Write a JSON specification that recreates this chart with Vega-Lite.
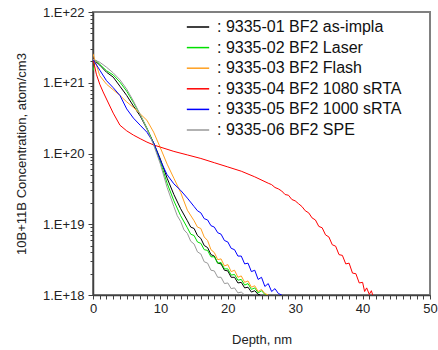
{
  "$schema": "https://vega.github.io/schema/vega-lite/v6.json",
  "width": 337,
  "height": 283,
  "autosize": {"type": "none"},
  "padding": {"left": 93, "top": 12, "right": 8, "bottom": 55},
  "config": {
    "font": "Liberation Sans",
    "view": {"stroke": "#808080", "strokeWidth": 2}
  },
  "data": {
    "values": [
      {"s": "9335-01 BF2 as-impla", "d": 0, "c": 2.14e21},
      {"s": "9335-01 BF2 as-impla", "d": 1, "c": 1.78e21},
      {"s": "9335-01 BF2 as-impla", "d": 2, "c": 1.41e21},
      {"s": "9335-01 BF2 as-impla", "d": 3, "c": 1.20e21},
      {"s": "9335-01 BF2 as-impla", "d": 4, "c": 8.91e20},
      {"s": "9335-01 BF2 as-impla", "d": 5, "c": 6.61e20},
      {"s": "9335-01 BF2 as-impla", "d": 6, "c": 4.68e20},
      {"s": "9335-01 BF2 as-impla", "d": 7, "c": 3.39e20},
      {"s": "9335-01 BF2 as-impla", "d": 8, "c": 2.24e20},
      {"s": "9335-01 BF2 as-impla", "d": 9, "c": 1.41e20},
      {"s": "9335-01 BF2 as-impla", "d": 10, "c": 8.32e19},
      {"s": "9335-01 BF2 as-impla", "d": 11, "c": 4.47e19},
      {"s": "9335-01 BF2 as-impla", "d": 12, "c": 2.63e19},
      {"s": "9335-01 BF2 as-impla", "d": 13, "c": 1.66e19},
      {"s": "9335-01 BF2 as-impla", "d": 14, "c": 1.12e19},
      {"s": "9335-01 BF2 as-impla", "d": 14.5, "c": 9.12e18},
      {"s": "9335-01 BF2 as-impla", "d": 15, "c": 8.71e18},
      {"s": "9335-01 BF2 as-impla", "d": 15.5, "c": 6.92e18},
      {"s": "9335-01 BF2 as-impla", "d": 16, "c": 6.31e18},
      {"s": "9335-01 BF2 as-impla", "d": 16.5, "c": 5.01e18},
      {"s": "9335-01 BF2 as-impla", "d": 17, "c": 4.68e18},
      {"s": "9335-01 BF2 as-impla", "d": 17.5, "c": 3.72e18},
      {"s": "9335-01 BF2 as-impla", "d": 18, "c": 3.55e18},
      {"s": "9335-01 BF2 as-impla", "d": 18.5, "c": 2.82e18},
      {"s": "9335-01 BF2 as-impla", "d": 19, "c": 2.75e18},
      {"s": "9335-01 BF2 as-impla", "d": 19.5, "c": 2.24e18},
      {"s": "9335-01 BF2 as-impla", "d": 20, "c": 2.19e18},
      {"s": "9335-01 BF2 as-impla", "d": 20.5, "c": 1.78e18},
      {"s": "9335-01 BF2 as-impla", "d": 21, "c": 1.78e18},
      {"s": "9335-01 BF2 as-impla", "d": 21.5, "c": 1.48e18},
      {"s": "9335-01 BF2 as-impla", "d": 22, "c": 1.51e18},
      {"s": "9335-01 BF2 as-impla", "d": 22.5, "c": 1.26e18},
      {"s": "9335-01 BF2 as-impla", "d": 23, "c": 1.29e18},
      {"s": "9335-01 BF2 as-impla", "d": 23.5, "c": 1.10e18},
      {"s": "9335-01 BF2 as-impla", "d": 24, "c": 1.15e18},
      {"s": "9335-01 BF2 as-impla", "d": 24.5, "c": 1.02e18},
      {"s": "9335-01 BF2 as-impla", "d": 24.8, "c": 1.0e18},

      {"s": "9335-02 BF2 Laser", "d": 0, "c": 1.48e21},
      {"s": "9335-02 BF2 Laser", "d": 0.4, "c": 2.09e21},
      {"s": "9335-02 BF2 Laser", "d": 1, "c": 1.82e21},
      {"s": "9335-02 BF2 Laser", "d": 2, "c": 1.48e21},
      {"s": "9335-02 BF2 Laser", "d": 3, "c": 1.29e21},
      {"s": "9335-02 BF2 Laser", "d": 4, "c": 1.02e21},
      {"s": "9335-02 BF2 Laser", "d": 5, "c": 7.59e20},
      {"s": "9335-02 BF2 Laser", "d": 6, "c": 5.25e20},
      {"s": "9335-02 BF2 Laser", "d": 7, "c": 3.55e20},
      {"s": "9335-02 BF2 Laser", "d": 8, "c": 2.29e20},
      {"s": "9335-02 BF2 Laser", "d": 9, "c": 1.38e20},
      {"s": "9335-02 BF2 Laser", "d": 10, "c": 7.59e19},
      {"s": "9335-02 BF2 Laser", "d": 11, "c": 3.80e19},
      {"s": "9335-02 BF2 Laser", "d": 12, "c": 2.14e19},
      {"s": "9335-02 BF2 Laser", "d": 13, "c": 1.32e19},
      {"s": "9335-02 BF2 Laser", "d": 14, "c": 8.91e18},
      {"s": "9335-02 BF2 Laser", "d": 14.5, "c": 7.24e18},
      {"s": "9335-02 BF2 Laser", "d": 15, "c": 6.92e18},
      {"s": "9335-02 BF2 Laser", "d": 15.5, "c": 5.62e18},
      {"s": "9335-02 BF2 Laser", "d": 16, "c": 5.37e18},
      {"s": "9335-02 BF2 Laser", "d": 16.5, "c": 4.37e18},
      {"s": "9335-02 BF2 Laser", "d": 17, "c": 4.27e18},
      {"s": "9335-02 BF2 Laser", "d": 17.5, "c": 3.47e18},
      {"s": "9335-02 BF2 Laser", "d": 18, "c": 3.47e18},
      {"s": "9335-02 BF2 Laser", "d": 18.5, "c": 2.82e18},
      {"s": "9335-02 BF2 Laser", "d": 19, "c": 2.88e18},
      {"s": "9335-02 BF2 Laser", "d": 19.5, "c": 2.34e18},
      {"s": "9335-02 BF2 Laser", "d": 20, "c": 2.34e18},
      {"s": "9335-02 BF2 Laser", "d": 20.5, "c": 1.91e18},
      {"s": "9335-02 BF2 Laser", "d": 21, "c": 1.95e18},
      {"s": "9335-02 BF2 Laser", "d": 21.5, "c": 1.62e18},
      {"s": "9335-02 BF2 Laser", "d": 22, "c": 1.66e18},
      {"s": "9335-02 BF2 Laser", "d": 22.5, "c": 1.38e18},
      {"s": "9335-02 BF2 Laser", "d": 23, "c": 1.45e18},
      {"s": "9335-02 BF2 Laser", "d": 23.5, "c": 1.20e18},
      {"s": "9335-02 BF2 Laser", "d": 24, "c": 1.26e18},
      {"s": "9335-02 BF2 Laser", "d": 24.5, "c": 1.07e18},
      {"s": "9335-02 BF2 Laser", "d": 25, "c": 1.15e18},
      {"s": "9335-02 BF2 Laser", "d": 25.5, "c": 1.02e18},
      {"s": "9335-02 BF2 Laser", "d": 25.8, "c": 1.0e18},

      {"s": "9335-03 BF2 Flash", "d": 0, "c": 2.57e21},
      {"s": "9335-03 BF2 Flash", "d": 0.5, "c": 1.78e21},
      {"s": "9335-03 BF2 Flash", "d": 1, "c": 1.26e21},
      {"s": "9335-03 BF2 Flash", "d": 2, "c": 9.55e20},
      {"s": "9335-03 BF2 Flash", "d": 3, "c": 7.94e20},
      {"s": "9335-03 BF2 Flash", "d": 4, "c": 6.61e20},
      {"s": "9335-03 BF2 Flash", "d": 5, "c": 5.37e20},
      {"s": "9335-03 BF2 Flash", "d": 6, "c": 4.47e20},
      {"s": "9335-03 BF2 Flash", "d": 7, "c": 3.63e20},
      {"s": "9335-03 BF2 Flash", "d": 8, "c": 2.95e20},
      {"s": "9335-03 BF2 Flash", "d": 9, "c": 2.0e20},
      {"s": "9335-03 BF2 Flash", "d": 10, "c": 1.20e20},
      {"s": "9335-03 BF2 Flash", "d": 11, "c": 7.08e19},
      {"s": "9335-03 BF2 Flash", "d": 12, "c": 4.47e19},
      {"s": "9335-03 BF2 Flash", "d": 13, "c": 2.82e19},
      {"s": "9335-03 BF2 Flash", "d": 14, "c": 1.58e19},
      {"s": "9335-03 BF2 Flash", "d": 15, "c": 1.12e19},
      {"s": "9335-03 BF2 Flash", "d": 15.5, "c": 9.12e18},
      {"s": "9335-03 BF2 Flash", "d": 16, "c": 8.71e18},
      {"s": "9335-03 BF2 Flash", "d": 16.5, "c": 6.61e18},
      {"s": "9335-03 BF2 Flash", "d": 17, "c": 5.89e18},
      {"s": "9335-03 BF2 Flash", "d": 17.5, "c": 4.37e18},
      {"s": "9335-03 BF2 Flash", "d": 18, "c": 3.98e18},
      {"s": "9335-03 BF2 Flash", "d": 18.5, "c": 3.16e18},
      {"s": "9335-03 BF2 Flash", "d": 19, "c": 3.24e18},
      {"s": "9335-03 BF2 Flash", "d": 19.5, "c": 2.57e18},
      {"s": "9335-03 BF2 Flash", "d": 20, "c": 2.69e18},
      {"s": "9335-03 BF2 Flash", "d": 20.5, "c": 2.14e18},
      {"s": "9335-03 BF2 Flash", "d": 21, "c": 2.24e18},
      {"s": "9335-03 BF2 Flash", "d": 21.5, "c": 1.78e18},
      {"s": "9335-03 BF2 Flash", "d": 22, "c": 1.86e18},
      {"s": "9335-03 BF2 Flash", "d": 22.5, "c": 1.51e18},
      {"s": "9335-03 BF2 Flash", "d": 23, "c": 1.58e18},
      {"s": "9335-03 BF2 Flash", "d": 23.5, "c": 1.29e18},
      {"s": "9335-03 BF2 Flash", "d": 24, "c": 1.35e18},
      {"s": "9335-03 BF2 Flash", "d": 24.5, "c": 1.12e18},
      {"s": "9335-03 BF2 Flash", "d": 25, "c": 1.20e18},
      {"s": "9335-03 BF2 Flash", "d": 25.5, "c": 1.05e18},
      {"s": "9335-03 BF2 Flash", "d": 26, "c": 1.0e18},

      {"s": "9335-04 BF2 1080 sRTA", "d": 0, "c": 2.19e21},
      {"s": "9335-04 BF2 1080 sRTA", "d": 0.5, "c": 1.32e21},
      {"s": "9335-04 BF2 1080 sRTA", "d": 1, "c": 9.55e20},
      {"s": "9335-04 BF2 1080 sRTA", "d": 1.5, "c": 7.41e20},
      {"s": "9335-04 BF2 1080 sRTA", "d": 2, "c": 5.89e20},
      {"s": "9335-04 BF2 1080 sRTA", "d": 3, "c": 3.72e20},
      {"s": "9335-04 BF2 1080 sRTA", "d": 4, "c": 2.51e20},
      {"s": "9335-04 BF2 1080 sRTA", "d": 5, "c": 2.09e20},
      {"s": "9335-04 BF2 1080 sRTA", "d": 6, "c": 1.82e20},
      {"s": "9335-04 BF2 1080 sRTA", "d": 7, "c": 1.62e20},
      {"s": "9335-04 BF2 1080 sRTA", "d": 8, "c": 1.45e20},
      {"s": "9335-04 BF2 1080 sRTA", "d": 9, "c": 1.32e20},
      {"s": "9335-04 BF2 1080 sRTA", "d": 10, "c": 1.23e20},
      {"s": "9335-04 BF2 1080 sRTA", "d": 12, "c": 1.07e20},
      {"s": "9335-04 BF2 1080 sRTA", "d": 14, "c": 9.55e19},
      {"s": "9335-04 BF2 1080 sRTA", "d": 16, "c": 8.51e19},
      {"s": "9335-04 BF2 1080 sRTA", "d": 18, "c": 7.41e19},
      {"s": "9335-04 BF2 1080 sRTA", "d": 20, "c": 6.46e19},
      {"s": "9335-04 BF2 1080 sRTA", "d": 22, "c": 5.62e19},
      {"s": "9335-04 BF2 1080 sRTA", "d": 24, "c": 4.68e19},
      {"s": "9335-04 BF2 1080 sRTA", "d": 26, "c": 3.80e19},
      {"s": "9335-04 BF2 1080 sRTA", "d": 26.5, "c": 3.63e19},
      {"s": "9335-04 BF2 1080 sRTA", "d": 27, "c": 3.31e19},
      {"s": "9335-04 BF2 1080 sRTA", "d": 27.5, "c": 3.16e19},
      {"s": "9335-04 BF2 1080 sRTA", "d": 28, "c": 2.95e19},
      {"s": "9335-04 BF2 1080 sRTA", "d": 28.5, "c": 2.63e19},
      {"s": "9335-04 BF2 1080 sRTA", "d": 29, "c": 2.57e19},
      {"s": "9335-04 BF2 1080 sRTA", "d": 29.5, "c": 2.24e19},
      {"s": "9335-04 BF2 1080 sRTA", "d": 30, "c": 2.14e19},
      {"s": "9335-04 BF2 1080 sRTA", "d": 30.5, "c": 1.95e19},
      {"s": "9335-04 BF2 1080 sRTA", "d": 31, "c": 1.78e19},
      {"s": "9335-04 BF2 1080 sRTA", "d": 31.5, "c": 1.55e19},
      {"s": "9335-04 BF2 1080 sRTA", "d": 32, "c": 1.45e19},
      {"s": "9335-04 BF2 1080 sRTA", "d": 32.5, "c": 1.23e19},
      {"s": "9335-04 BF2 1080 sRTA", "d": 33, "c": 1.15e19},
      {"s": "9335-04 BF2 1080 sRTA", "d": 33.5, "c": 9.33e18},
      {"s": "9335-04 BF2 1080 sRTA", "d": 34, "c": 8.91e18},
      {"s": "9335-04 BF2 1080 sRTA", "d": 34.5, "c": 7.08e18},
      {"s": "9335-04 BF2 1080 sRTA", "d": 35, "c": 6.61e18},
      {"s": "9335-04 BF2 1080 sRTA", "d": 35.5, "c": 5.13e18},
      {"s": "9335-04 BF2 1080 sRTA", "d": 36, "c": 4.90e18},
      {"s": "9335-04 BF2 1080 sRTA", "d": 36.5, "c": 3.72e18},
      {"s": "9335-04 BF2 1080 sRTA", "d": 37, "c": 3.63e18},
      {"s": "9335-04 BF2 1080 sRTA", "d": 37.5, "c": 2.75e18},
      {"s": "9335-04 BF2 1080 sRTA", "d": 38, "c": 2.82e18},
      {"s": "9335-04 BF2 1080 sRTA", "d": 38.5, "c": 2.04e18},
      {"s": "9335-04 BF2 1080 sRTA", "d": 39, "c": 2.0e18},
      {"s": "9335-04 BF2 1080 sRTA", "d": 39.5, "c": 1.48e18},
      {"s": "9335-04 BF2 1080 sRTA", "d": 40, "c": 1.51e18},
      {"s": "9335-04 BF2 1080 sRTA", "d": 40.3, "c": 1.12e18},
      {"s": "9335-04 BF2 1080 sRTA", "d": 40.6, "c": 1.26e18},
      {"s": "9335-04 BF2 1080 sRTA", "d": 41, "c": 1.02e18},
      {"s": "9335-04 BF2 1080 sRTA", "d": 41.3, "c": 1.15e18},
      {"s": "9335-04 BF2 1080 sRTA", "d": 41.5, "c": 1.0e18},

      {"s": "9335-05 BF2 1000 sRTA", "d": 0, "c": 2.14e21},
      {"s": "9335-05 BF2 1000 sRTA", "d": 1, "c": 1.51e21},
      {"s": "9335-05 BF2 1000 sRTA", "d": 2, "c": 1.07e21},
      {"s": "9335-05 BF2 1000 sRTA", "d": 3, "c": 8.51e20},
      {"s": "9335-05 BF2 1000 sRTA", "d": 4, "c": 6.61e20},
      {"s": "9335-05 BF2 1000 sRTA", "d": 5, "c": 4.27e20},
      {"s": "9335-05 BF2 1000 sRTA", "d": 6, "c": 3.16e20},
      {"s": "9335-05 BF2 1000 sRTA", "d": 7, "c": 2.51e20},
      {"s": "9335-05 BF2 1000 sRTA", "d": 8, "c": 2.0e20},
      {"s": "9335-05 BF2 1000 sRTA", "d": 9, "c": 1.41e20},
      {"s": "9335-05 BF2 1000 sRTA", "d": 10, "c": 7.94e19},
      {"s": "9335-05 BF2 1000 sRTA", "d": 11, "c": 5.01e19},
      {"s": "9335-05 BF2 1000 sRTA", "d": 12, "c": 3.72e19},
      {"s": "9335-05 BF2 1000 sRTA", "d": 13, "c": 3.02e19},
      {"s": "9335-05 BF2 1000 sRTA", "d": 14, "c": 2.34e19},
      {"s": "9335-05 BF2 1000 sRTA", "d": 15, "c": 1.78e19},
      {"s": "9335-05 BF2 1000 sRTA", "d": 15.5, "c": 1.55e19},
      {"s": "9335-05 BF2 1000 sRTA", "d": 16, "c": 1.45e19},
      {"s": "9335-05 BF2 1000 sRTA", "d": 16.5, "c": 1.20e19},
      {"s": "9335-05 BF2 1000 sRTA", "d": 17, "c": 1.15e19},
      {"s": "9335-05 BF2 1000 sRTA", "d": 17.5, "c": 9.55e18},
      {"s": "9335-05 BF2 1000 sRTA", "d": 18, "c": 9.12e18},
      {"s": "9335-05 BF2 1000 sRTA", "d": 18.5, "c": 7.59e18},
      {"s": "9335-05 BF2 1000 sRTA", "d": 19, "c": 7.24e18},
      {"s": "9335-05 BF2 1000 sRTA", "d": 19.5, "c": 5.89e18},
      {"s": "9335-05 BF2 1000 sRTA", "d": 20, "c": 5.62e18},
      {"s": "9335-05 BF2 1000 sRTA", "d": 20.5, "c": 4.57e18},
      {"s": "9335-05 BF2 1000 sRTA", "d": 21, "c": 4.37e18},
      {"s": "9335-05 BF2 1000 sRTA", "d": 21.5, "c": 3.55e18},
      {"s": "9335-05 BF2 1000 sRTA", "d": 22, "c": 3.55e18},
      {"s": "9335-05 BF2 1000 sRTA", "d": 22.5, "c": 2.75e18},
      {"s": "9335-05 BF2 1000 sRTA", "d": 23, "c": 2.82e18},
      {"s": "9335-05 BF2 1000 sRTA", "d": 23.5, "c": 2.14e18},
      {"s": "9335-05 BF2 1000 sRTA", "d": 24, "c": 2.24e18},
      {"s": "9335-05 BF2 1000 sRTA", "d": 24.5, "c": 1.66e18},
      {"s": "9335-05 BF2 1000 sRTA", "d": 25, "c": 1.78e18},
      {"s": "9335-05 BF2 1000 sRTA", "d": 25.5, "c": 1.32e18},
      {"s": "9335-05 BF2 1000 sRTA", "d": 26, "c": 1.45e18},
      {"s": "9335-05 BF2 1000 sRTA", "d": 26.5, "c": 1.12e18},
      {"s": "9335-05 BF2 1000 sRTA", "d": 27, "c": 1.23e18},
      {"s": "9335-05 BF2 1000 sRTA", "d": 27.5, "c": 1.05e18},
      {"s": "9335-05 BF2 1000 sRTA", "d": 28, "c": 1.0e18},

      {"s": "9335-06 BF2 SPE", "d": 0, "c": 2.14e21},
      {"s": "9335-06 BF2 SPE", "d": 1, "c": 1.95e21},
      {"s": "9335-06 BF2 SPE", "d": 2, "c": 1.66e21},
      {"s": "9335-06 BF2 SPE", "d": 3, "c": 1.38e21},
      {"s": "9335-06 BF2 SPE", "d": 4, "c": 1.10e21},
      {"s": "9335-06 BF2 SPE", "d": 5, "c": 8.13e20},
      {"s": "9335-06 BF2 SPE", "d": 6, "c": 5.50e20},
      {"s": "9335-06 BF2 SPE", "d": 7, "c": 3.55e20},
      {"s": "9335-06 BF2 SPE", "d": 8, "c": 2.24e20},
      {"s": "9335-06 BF2 SPE", "d": 9, "c": 1.32e20},
      {"s": "9335-06 BF2 SPE", "d": 10, "c": 7.08e19},
      {"s": "9335-06 BF2 SPE", "d": 11, "c": 3.31e19},
      {"s": "9335-06 BF2 SPE", "d": 12, "c": 1.78e19},
      {"s": "9335-06 BF2 SPE", "d": 12.5, "c": 1.32e19},
      {"s": "9335-06 BF2 SPE", "d": 13, "c": 1.10e19},
      {"s": "9335-06 BF2 SPE", "d": 13.5, "c": 8.32e18},
      {"s": "9335-06 BF2 SPE", "d": 14, "c": 7.41e18},
      {"s": "9335-06 BF2 SPE", "d": 14.5, "c": 5.75e18},
      {"s": "9335-06 BF2 SPE", "d": 15, "c": 5.25e18},
      {"s": "9335-06 BF2 SPE", "d": 15.5, "c": 4.07e18},
      {"s": "9335-06 BF2 SPE", "d": 16, "c": 3.80e18},
      {"s": "9335-06 BF2 SPE", "d": 16.5, "c": 2.95e18},
      {"s": "9335-06 BF2 SPE", "d": 17, "c": 2.82e18},
      {"s": "9335-06 BF2 SPE", "d": 17.5, "c": 2.24e18},
      {"s": "9335-06 BF2 SPE", "d": 18, "c": 2.19e18},
      {"s": "9335-06 BF2 SPE", "d": 18.5, "c": 1.78e18},
      {"s": "9335-06 BF2 SPE", "d": 19, "c": 1.78e18},
      {"s": "9335-06 BF2 SPE", "d": 19.5, "c": 1.45e18},
      {"s": "9335-06 BF2 SPE", "d": 20, "c": 1.48e18},
      {"s": "9335-06 BF2 SPE", "d": 20.5, "c": 1.23e18},
      {"s": "9335-06 BF2 SPE", "d": 21, "c": 1.26e18},
      {"s": "9335-06 BF2 SPE", "d": 21.5, "c": 1.07e18},
      {"s": "9335-06 BF2 SPE", "d": 22, "c": 1.10e18},
      {"s": "9335-06 BF2 SPE", "d": 22.5, "c": 1.0e18}
    ]
  },
  "mark": {"type": "line", "strokeWidth": 1, "clip": true},
  "encoding": {
    "x": {
      "field": "d",
      "type": "quantitative",
      "scale": {"domain": [0, 50], "nice": false, "zero": false},
      "axis": {
        "title": "Depth, nm",
        "values": [0,1,2,3,4,5,6,7,8,9,10,11,12,13,14,15,16,17,18,19,20,21,22,23,24,25,26,27,28,29,30,31,32,33,34,35,36,37,38,39,40,41,42,43,44,45,46,47,48,49,50],
        "labelExpr": "datum.value % 10 == 0 ? datum.label : ''",
        "labelOverlap": false,
        "labelFlush": false,
        "grid": false,
        "tickSize": 4,
        "tickColor": "#404040",
        "domainColor": "#404040",
        "domainWidth": 1.5,
        "labelFontSize": 13,
        "labelColor": "#222222",
        "labelPadding": 3,
        "titleFontSize": 13,
        "titleFontWeight": "normal",
        "titleColor": "#222222",
        "titlePadding": 18
      }
    },
    "y": {
      "field": "c",
      "type": "quantitative",
      "scale": {"type": "log", "domain": [1e18, 1e22], "nice": false},
      "axis": {
        "title": "10B+11B Concentration, atom/cm3",
        "values": [1e18,2e18,3e18,4e18,5e18,6e18,7e18,8e18,9e18,1e19,2e19,3e19,4e19,5e19,6e19,7e19,8e19,9e19,1e20,2e20,3e20,4e20,5e20,6e20,7e20,8e20,9e20,1e21,2e21,3e21,4e21,5e21,6e21,7e21,8e21,9e21,1e22],
        "labelExpr": "abs(log(datum.value)/LN10 - round(log(datum.value)/LN10)) < 0.01 ? '1.E+' + round(log(datum.value)/LN10) : ''",
        "labelOverlap": false,
        "grid": false,
        "tickSize": {"expr": "abs(log(datum.value)/LN10 - round(log(datum.value)/LN10)) < 0.01 ? 5 : 3"},
        "tickColor": "#404040",
        "domainColor": "#404040",
        "domainWidth": 1.5,
        "labelFontSize": 13,
        "labelColor": "#222222",
        "labelPadding": 4,
        "titleFontSize": 13,
        "titleFontWeight": "normal",
        "titleColor": "#222222",
        "titlePadding": 14
      }
    },
    "color": {
      "field": "s",
      "type": "nominal",
      "scale": {
        "domain": ["9335-01 BF2 as-impla", "9335-02 BF2 Laser", "9335-03 BF2 Flash", "9335-04 BF2 1080 sRTA", "9335-05 BF2 1000 sRTA", "9335-06 BF2 SPE"],
        "range": ["#000000", "#00e000", "#ffa020", "#ff0000", "#0000ff", "#999999"]
      },
      "legend": {
        "title": null,
        "orient": "none",
        "legendX": 93,
        "legendY": 3,
        "padding": 0,
        "symbolType": "stroke",
        "symbolSize": 500,
        "symbolStrokeWidth": 1.5,
        "rowPadding": 0.6,
        "labelOffset": 7,
        "labelFontSize": 16,
        "labelColor": "#111111",
        "labelLimit": 300,
        "labelExpr": "': ' + datum.label"
      }
    }
  }
}
